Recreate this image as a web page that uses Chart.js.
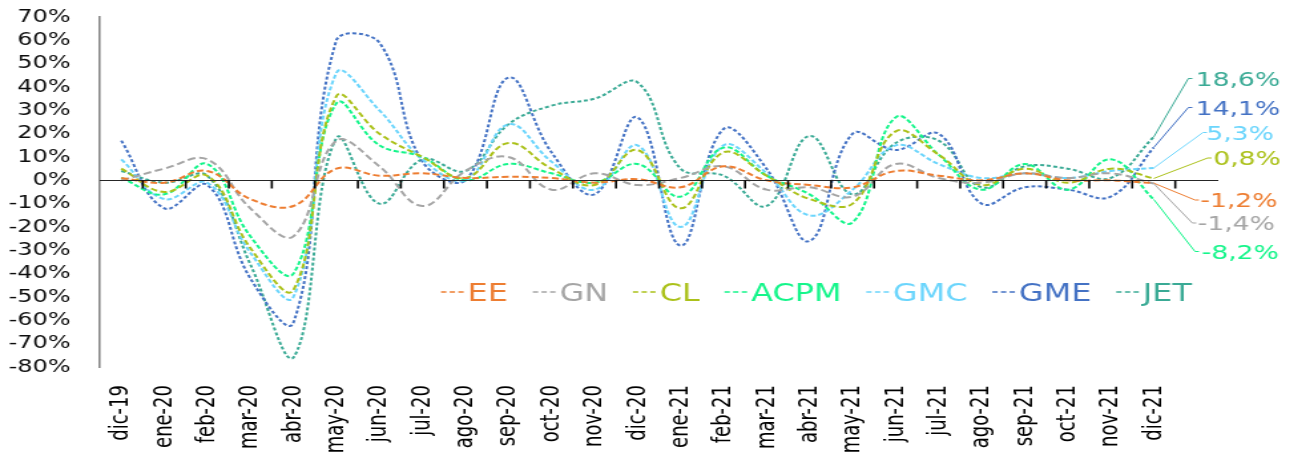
<!DOCTYPE html>
<html>
<head>
<meta charset="utf-8">
<script src="https://cdn.jsdelivr.net/npm/chart.js@4.4.1/dist/chart.umd.min.js"></script>
<style>
    html, body { margin: 0; padding: 0; background: #ffffff; overflow: hidden; }
    /* the reference picture is stretched sideways, so the chart is drawn narrow and scaled */
    #wrap { width: 976px; height: 453px; transform: scaleX(1.33); transform-origin: 0 0; }
</style>
</head>
<body>
<div id="wrap"><canvas id="chart" width="976" height="453"></canvas></div>
<script>
var months = ["dic-19", "ene-20", "feb-20", "mar-20", "abr-20", "may-20", "jun-20", "jul-20",
    "ago-20", "sep-20", "oct-20", "nov-20", "dic-20", "ene-21", "feb-21", "mar-21", "abr-21",
    "may-21", "jun-21", "jul-21", "ago-21", "sep-21", "oct-21", "nov-21", "dic-21", ""];

// monthly change, percent
var ee   = [1, -1, 4, -8, -11, 5, 2, 3, 1, 1.5, 1, -1, 0.5, -3, 6, 0, -2, -3, 4, 2, 0, 3, 0, 0, -1.2];
var gn   = [0, 5, 9, -12, -24, 17, 6, -11, 4, 10, -4, 3, -2, 1, 6, -4, -3, -7, 7, 1, -1, 3, 1, 3, -1.4];
var cl   = [5, -5, 2, -29, -47, 36, 20, 10, 1, 16, 5, -2, 13, -12, 12, 2, -8, -10, 21, 11, -2, 5, -1, 5, 0.8];
var acpm = [1, -6, 7, -24, -40, 33, 15, 10, 0, 7, 3, -1, 7, -7, 14, 2, -6, -18, 27, 11, -4, 7, -4, 9, -8.2];
var gmc  = [9, -8, -1, -31, -50, 46, 30, 9, 0, 24, 8, -4, 15, -20, 15, 3, -15, -4, 15, 7, 1, 3, 1, 4, 5.3];
var gme  = [17, -12, -2, -42, -61, 60, 59, 8, 0, 44, 12, -6, 27, -28, 22, 5, -26, 20, 13, 20, -10, -3, -4, -7, 14.1];
var jet  = [4, -1, 2, -36, -76, 18, -10, 9, 4, 24, 32, 35, 42, 5, 2, -11, 19, -6, 16, 17, -3, 6, 5, 1, 18.6];

var yTicksMin = -80;
var yTicksMax = 70;
var yTicksStep = 10;

var names = ["EE", "GN", "CL", "ACPM", "GMC", "GME", "JET"];
var values = [ee, gn, cl, acpm, gmc, gme, jet];
var colours = ["#ED7D31", "#A5A5A5", "#ABC11A", "#14F58A", "#6BD5FC", "#4472C4", "#3AAA95"];
var dashes = [[5, 2.5], [6, 3], [5, 2.5], [4, 2], [4, 2], [3, 2], [3, 2]];

// where the end labels sit (styling only)
var labelY = [200, 223, 158, 251.5, 132.5, 107.5, 78.5];
var elbowDx = [31, 29, 40.5, 31, 37, 26, 26];
var textDx = [35, 33, 44.8, 36, 39.5, 31.5, 31.5];

Chart.defaults.font.family = "'DejaVu Sans', Verdana, sans-serif";

var datasets = [];
for (var i = 0; i < names.length; i++) {
    datasets.push({
        label: names[i],
        data: values[i],
        borderColor: colours[i],
        backgroundColor: colours[i],
        borderWidth: 2,
        borderDash: dashes[i],
        pointRadius: 0,
        tension: 0.4,
        fill: false
    });
}

function fmt(v) {
    return v.toFixed(1).replace(".", ",") + "%";
}

// horizontal axis line at 0% with tick marks between the months
var zeroAxis = {
    id: "zeroAxis",
    afterDatasetsDraw: function (chart) {
        var ctx = chart.ctx;
        var xs = chart.scales.x;
        var y0 = Math.round(chart.scales.y.getPixelForValue(0)) + 0.5;
        var n = xs.getLabels().length;
        var step = (xs.right - xs.left) / n;
        ctx.save();
        ctx.setLineDash([]);
        ctx.strokeStyle = "#262626";
        ctx.lineWidth = 1.2;
        ctx.beginPath();
        ctx.moveTo(xs.left, y0);
        ctx.lineTo(xs.right, y0);
        ctx.stroke();
        ctx.strokeStyle = "#000000";
        ctx.lineWidth = 1.6;
        ctx.beginPath();
        for (var k = 1; k < n; k++) {
            var tx = xs.getPixelForValue(k) - step / 2;
            ctx.moveTo(tx, y0);
            ctx.lineTo(tx, y0 + 8);
        }
        ctx.stroke();
        ctx.restore();
    }
};

var endLabels = {
    id: "endLabels",
    afterDatasetsDraw: function (chart) {
        var ctx = chart.ctx;
        ctx.save();
        ctx.font = "20px 'DejaVu Sans'";
        ctx.textBaseline = "alphabetic";
        ctx.textAlign = "left";
        chart.data.datasets.forEach(function (ds, i) {
            var meta = chart.getDatasetMeta(i);
            var last = ds.data.length - 1;
            var pt = meta.data[last];
            var ex = pt.x + elbowDx[i];
            var ey = labelY[i];
            ctx.strokeStyle = ds.borderColor;
            ctx.lineWidth = 1;
            ctx.setLineDash([]);
            ctx.beginPath();
            ctx.moveTo(pt.x, pt.y);
            ctx.lineTo(ex, ey);
            ctx.lineTo(ex + 3, ey);
            ctx.stroke();
            ctx.fillStyle = ds.borderColor;
            ctx.fillText(fmt(ds.data[last]), pt.x + textDx[i], ey + 7.3);
        });
        ctx.restore();
    }
};

var inlineLegend = {
    id: "inlineLegend",
    afterDatasetsDraw: function (chart) {
        var ctx = chart.ctx;
        var x = 331.6;
        var y = 292;
        ctx.save();
        ctx.font = "24px 'DejaVu Sans'";
        ctx.textBaseline = "alphabetic";
        ctx.textAlign = "left";
        chart.data.datasets.forEach(function (ds) {
            ctx.strokeStyle = ds.borderColor;
            ctx.lineWidth = 1.5;
            ctx.setLineDash([4, 2.5]);
            ctx.beginPath();
            ctx.moveTo(x, y);
            ctx.lineTo(x + 18, y);
            ctx.stroke();
            ctx.setLineDash([]);
            ctx.fillStyle = ds.borderColor;
            ctx.fillText(ds.label, x + 20, y + 8.8);
            x += 20 + ctx.measureText(ds.label).width + 18.7;
        });
        ctx.restore();
    }
};

var chart = new Chart(document.getElementById("chart"), {
    type: "line",
    data: { labels: months, datasets: datasets },
    plugins: [zeroAxis, endLabels, inlineLegend],
    options: {
        responsive: false,
        animation: false,
        layout: { padding: { top: 17, right: 60, left: 0, bottom: 0 } },
        plugins: {
            legend: { display: false },
            tooltip: { enabled: false },
            title: { display: false }
        },
        scales: {
            x: {
                type: "category",
                position: "bottom",
                offset: true,
                grid: { display: false, drawTicks: false },
                border: { display: false },
                ticks: {
                    autoSkip: false,
                    minRotation: 90,
                    maxRotation: 90,
                    padding: 18,
                    color: "#000000",
                    font: { family: "'DejaVu Sans Condensed', 'Liberation Sans Narrow', 'DejaVu Sans', sans-serif", size: 20 }
                },
                afterFit: function (s) { s.height = 86; }
            },
            y: {
                min: yTicksMin,
                max: yTicksMax,
                // tick marks are not drawn (grid hidden) but their length keeps the labels off the axis
                grid: { display: false, drawTicks: true, tickLength: 16 },
                border: { display: true, color: "#868686", width: 1.6 },
                ticks: {
                    stepSize: yTicksStep,
                    autoSkip: false,
                    padding: 6,
                    color: "#0d0d0d",
                    font: { size: 18 },
                    callback: function (v) { return v + "%"; }
                },
                afterFit: function (s) { s.width = 75; }
            }
        }
    }
});
</script>
</body>
</html>
